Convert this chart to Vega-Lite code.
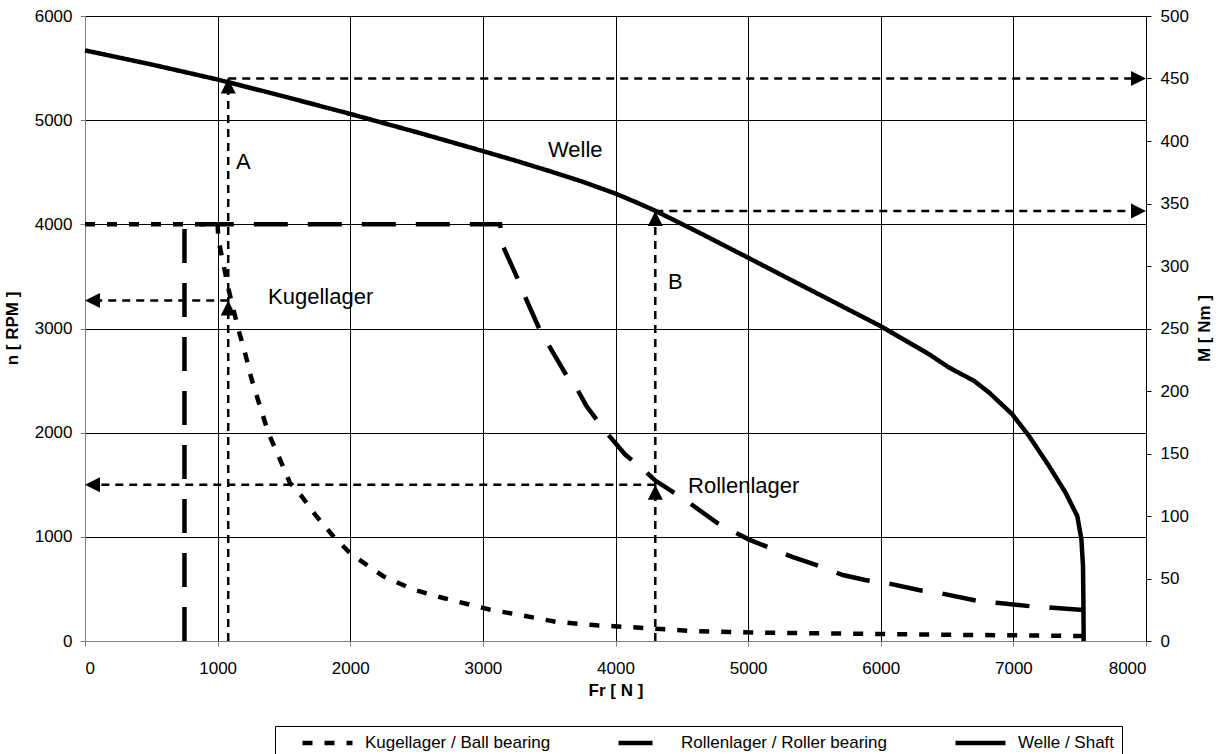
{
  "$schema": "https://vega.github.io/schema/vega-lite/v6.json",
  "width": 1061,
  "height": 625,
  "autosize": {"type": "none"},
  "padding": {"left": 85, "top": 16, "right": 70, "bottom": 113},
  "background": "white",
  "config": {
    "view": {"stroke": null},
    "font": "Liberation Sans",
    "axis": {
      "labelFont": "Liberation Sans",
      "titleFont": "Liberation Sans",
      "labelColor": "black",
      "titleColor": "black",
      "labelFontSize": 17,
      "titleFontSize": 17,
      "titleFontWeight": "bold",
      "format": "d"
    },
    "legend": {"labelFont": "Liberation Sans"}
  },
  "datasets": {
    "curves": [
      {"series": "Kugellager / Ball bearing", "i": 0, "x": 0, "y": 4000},
      {"series": "Kugellager / Ball bearing", "i": 1, "x": 1000, "y": 4000},
      {"series": "Kugellager / Ball bearing", "i": 2, "x": 1005, "y": 3860},
      {"series": "Kugellager / Ball bearing", "i": 3, "x": 1040, "y": 3640},
      {"series": "Kugellager / Ball bearing", "i": 4, "x": 1075, "y": 3420},
      {"series": "Kugellager / Ball bearing", "i": 5, "x": 1106, "y": 3250},
      {"series": "Kugellager / Ball bearing", "i": 6, "x": 1156, "y": 2994},
      {"series": "Kugellager / Ball bearing", "i": 7, "x": 1206, "y": 2769},
      {"series": "Kugellager / Ball bearing", "i": 8, "x": 1256, "y": 2513},
      {"series": "Kugellager / Ball bearing", "i": 9, "x": 1319, "y": 2256},
      {"series": "Kugellager / Ball bearing", "i": 10, "x": 1382, "y": 2000},
      {"series": "Kugellager / Ball bearing", "i": 11, "x": 1470, "y": 1744},
      {"series": "Kugellager / Ball bearing", "i": 12, "x": 1545, "y": 1519},
      {"series": "Kugellager / Ball bearing", "i": 13, "x": 1633, "y": 1391},
      {"series": "Kugellager / Ball bearing", "i": 14, "x": 1734, "y": 1215},
      {"series": "Kugellager / Ball bearing", "i": 15, "x": 1872, "y": 1006},
      {"series": "Kugellager / Ball bearing", "i": 16, "x": 2010, "y": 830},
      {"series": "Kugellager / Ball bearing", "i": 17, "x": 2249, "y": 622},
      {"series": "Kugellager / Ball bearing", "i": 18, "x": 2475, "y": 494},
      {"series": "Kugellager / Ball bearing", "i": 19, "x": 2701, "y": 413},
      {"series": "Kugellager / Ball bearing", "i": 20, "x": 2902, "y": 349},
      {"series": "Kugellager / Ball bearing", "i": 21, "x": 3050, "y": 302},
      {"series": "Kugellager / Ball bearing", "i": 22, "x": 3286, "y": 248},
      {"series": "Kugellager / Ball bearing", "i": 23, "x": 3556, "y": 183},
      {"series": "Kugellager / Ball bearing", "i": 24, "x": 3859, "y": 151},
      {"series": "Kugellager / Ball bearing", "i": 25, "x": 4296, "y": 119},
      {"series": "Kugellager / Ball bearing", "i": 26, "x": 4566, "y": 96},
      {"series": "Kugellager / Ball bearing", "i": 27, "x": 5104, "y": 80},
      {"series": "Kugellager / Ball bearing", "i": 28, "x": 5710, "y": 71},
      {"series": "Kugellager / Ball bearing", "i": 29, "x": 6384, "y": 61},
      {"series": "Kugellager / Ball bearing", "i": 30, "x": 6956, "y": 55},
      {"series": "Kugellager / Ball bearing", "i": 31, "x": 7530, "y": 48},
      {"series": "Rollenlager / Roller bearing", "i": 0, "x": 750, "y": 0},
      {"series": "Rollenlager / Roller bearing", "i": 1, "x": 750, "y": 4000},
      {"series": "Rollenlager / Roller bearing", "i": 2, "x": 3130, "y": 4000},
      {"series": "Rollenlager / Roller bearing", "i": 3, "x": 3151, "y": 3792},
      {"series": "Rollenlager / Roller bearing", "i": 4, "x": 3264, "y": 3472},
      {"series": "Rollenlager / Roller bearing", "i": 5, "x": 3327, "y": 3280},
      {"series": "Rollenlager / Roller bearing", "i": 6, "x": 3428, "y": 2990},
      {"series": "Rollenlager / Roller bearing", "i": 7, "x": 3529, "y": 2768},
      {"series": "Rollenlager / Roller bearing", "i": 8, "x": 3655, "y": 2496},
      {"series": "Rollenlager / Roller bearing", "i": 9, "x": 3705, "y": 2432},
      {"series": "Rollenlager / Roller bearing", "i": 10, "x": 3781, "y": 2256},
      {"series": "Rollenlager / Roller bearing", "i": 11, "x": 3932, "y": 2000},
      {"series": "Rollenlager / Roller bearing", "i": 12, "x": 4071, "y": 1792},
      {"series": "Rollenlager / Roller bearing", "i": 13, "x": 4209, "y": 1648},
      {"series": "Rollenlager / Roller bearing", "i": 14, "x": 4300, "y": 1540},
      {"series": "Rollenlager / Roller bearing", "i": 15, "x": 4461, "y": 1408},
      {"series": "Rollenlager / Roller bearing", "i": 16, "x": 4537, "y": 1344},
      {"series": "Rollenlager / Roller bearing", "i": 17, "x": 4763, "y": 1136},
      {"series": "Rollenlager / Roller bearing", "i": 18, "x": 5003, "y": 976},
      {"series": "Rollenlager / Roller bearing", "i": 19, "x": 5327, "y": 810},
      {"series": "Rollenlager / Roller bearing", "i": 20, "x": 5478, "y": 746},
      {"series": "Rollenlager / Roller bearing", "i": 21, "x": 5714, "y": 633},
      {"series": "Rollenlager / Roller bearing", "i": 22, "x": 5882, "y": 585},
      {"series": "Rollenlager / Roller bearing", "i": 23, "x": 6034, "y": 560},
      {"series": "Rollenlager / Roller bearing", "i": 24, "x": 6286, "y": 489},
      {"series": "Rollenlager / Roller bearing", "i": 25, "x": 6455, "y": 457},
      {"series": "Rollenlager / Roller bearing", "i": 26, "x": 6724, "y": 386},
      {"series": "Rollenlager / Roller bearing", "i": 27, "x": 6892, "y": 364},
      {"series": "Rollenlager / Roller bearing", "i": 28, "x": 7128, "y": 334},
      {"series": "Rollenlager / Roller bearing", "i": 29, "x": 7530, "y": 298},
      {"series": "Welle / Shaft", "i": 0, "x": 0, "y": 5670},
      {"series": "Welle / Shaft", "i": 1, "x": 500, "y": 5535},
      {"series": "Welle / Shaft", "i": 2, "x": 1000, "y": 5390},
      {"series": "Welle / Shaft", "i": 3, "x": 1500, "y": 5228},
      {"series": "Welle / Shaft", "i": 4, "x": 2000, "y": 5060},
      {"series": "Welle / Shaft", "i": 5, "x": 2500, "y": 4885},
      {"series": "Welle / Shaft", "i": 6, "x": 3000, "y": 4703},
      {"series": "Welle / Shaft", "i": 7, "x": 3250, "y": 4610},
      {"series": "Welle / Shaft", "i": 8, "x": 3500, "y": 4512},
      {"series": "Welle / Shaft", "i": 9, "x": 3750, "y": 4410},
      {"series": "Welle / Shaft", "i": 10, "x": 4000, "y": 4295},
      {"series": "Welle / Shaft", "i": 11, "x": 4150, "y": 4215},
      {"series": "Welle / Shaft", "i": 12, "x": 4300, "y": 4130},
      {"series": "Welle / Shaft", "i": 13, "x": 4650, "y": 3908},
      {"series": "Welle / Shaft", "i": 14, "x": 5000, "y": 3679},
      {"series": "Welle / Shaft", "i": 15, "x": 6000, "y": 3022},
      {"series": "Welle / Shaft", "i": 16, "x": 6364, "y": 2753},
      {"series": "Welle / Shaft", "i": 17, "x": 6515, "y": 2625},
      {"series": "Welle / Shaft", "i": 18, "x": 6704, "y": 2497},
      {"series": "Welle / Shaft", "i": 19, "x": 6817, "y": 2385},
      {"series": "Welle / Shaft", "i": 20, "x": 6992, "y": 2176},
      {"series": "Welle / Shaft", "i": 21, "x": 7118, "y": 1968},
      {"series": "Welle / Shaft", "i": 22, "x": 7269, "y": 1679},
      {"series": "Welle / Shaft", "i": 23, "x": 7394, "y": 1423},
      {"series": "Welle / Shaft", "i": 24, "x": 7482, "y": 1199},
      {"series": "Welle / Shaft", "i": 25, "x": 7513, "y": 974},
      {"series": "Welle / Shaft", "i": 26, "x": 7525, "y": 718},
      {"series": "Welle / Shaft", "i": 27, "x": 7528, "y": 397},
      {"series": "Welle / Shaft", "i": 28, "x": 7530, "y": 0}
    ],
    "guides": [
      {"id": "A_v", "i": 0, "x": 1080, "y": 0},
      {"id": "A_v", "i": 1, "x": 1080, "y": 5400},
      {"id": "A_h", "i": 0, "x": 1080, "y": 5400},
      {"id": "A_h", "i": 1, "x": 7900, "y": 5400},
      {"id": "A_l", "i": 0, "x": 1080, "y": 3270},
      {"id": "A_l", "i": 1, "x": 100, "y": 3270},
      {"id": "B_v", "i": 0, "x": 4300, "y": 0},
      {"id": "B_v", "i": 1, "x": 4300, "y": 4128},
      {"id": "B_h", "i": 0, "x": 4300, "y": 4128},
      {"id": "B_h", "i": 1, "x": 7900, "y": 4128},
      {"id": "B_l", "i": 0, "x": 4300, "y": 1500},
      {"id": "B_l", "i": 1, "x": 100, "y": 1500}
    ],
    "arrows": [
      {"x": 1080, "y": 5400, "dir": "up"},
      {"x": 1080, "y": 3270, "dir": "up"},
      {"x": 4300, "y": 4128, "dir": "up"},
      {"x": 4300, "y": 1500, "dir": "up"},
      {"x": 0, "y": 3270, "dir": "left"},
      {"x": 0, "y": 1500, "dir": "left"}
    ],
    "labels": [
      {"label": "A", "x": 1139, "y": 4598},
      {"label": "Welle", "x": 3491, "y": 4713},
      {"label": "B", "x": 4396, "y": 3446},
      {"label": "Kugellager", "x": 1380, "y": 3302},
      {"label": "Rollenlager", "x": 4547, "y": 1488}
    ],
    "torque": [
      {"x": 8000, "m": 450},
      {"x": 8000, "m": 344}
    ]
  },
  "layer": [
    {
      "layer": [
        {
          "data": {"name": "curves"},
          "mark": {"type": "line", "color": "black", "strokeWidth": 4.5, "strokeCap": "butt"},
          "encoding": {
            "x": {
              "field": "x", "type": "quantitative",
              "scale": {"domain": [0, 8000], "nice": false, "zero": false},
              "axis": {
                "title": "Fr [ N ]",
                "values": [0, 1000, 2000, 3000, 4000, 5000, 6000, 7000, 8000],
                "format": "d",
                "grid": true,
                "gridColor": {"condition": {"test": "datum.value === 0", "value": "transparent"}, "value": "black"},
                "gridWidth": 1,
                "domainColor": "#808080",
                "tickColor": "#808080",
                "tickSize": 5,
                "labelPadding": 14,
                "titleY": 49,
                "titleBaseline": "middle"
              }
            },
            "y": {
              "field": "y", "type": "quantitative",
              "scale": {"domain": [0, 6000], "nice": false, "zero": false},
              "axis": {
                "title": "n [ RPM ]",
                "orient": "left",
                "values": [0, 1000, 2000, 3000, 4000, 5000, 6000],
                "format": "d",
                "grid": true,
                "gridColor": {"condition": {"test": "datum.value === 0", "value": "transparent"}, "value": "black"},
                "gridWidth": 1,
                "domainColor": "#808080",
                "tickColor": "#808080",
                "tickSize": 5,
                "labelPadding": 8,
                "titleX": -73,
                "titleY": 312,
                "titleAngle": 270,
                "titleBaseline": "middle",
                "titleAlign": "center"
              }
            },
            "order": {"field": "i", "type": "quantitative"},
            "strokeDash": {
              "field": "series", "type": "nominal",
              "scale": {
                "domain": ["Kugellager / Ball bearing", "Rollenlager / Roller bearing", "Welle / Shaft"],
                "range": [[10, 12], [34, 20], [1, 0]]
              },
              "legend": {
                "title": null,
                "orient": "none",
                "legendX": 190,
                "legendY": 710,
                "direction": "horizontal",
                "columns": 3,
                "columnPadding": 47,
                "symbolType": "stroke",
                "symbolSize": 2500,
                "symbolStrokeWidth": 4.5,
                "symbolStrokeColor": "black",
                "symbolOffset": 18,
                "clipHeight": 20,
                "labelOffset": 10,
                "labelFontSize": 17,
                "labelColor": "black",
                "labelLimit": 400,
                "strokeColor": "black",
                "fillColor": "white",
                "padding": 7
              }
            }
          }
        },
        {
          "data": {"name": "guides"},
          "mark": {"type": "line", "color": "black", "strokeWidth": 2.5, "strokeDash": [8, 6]},
          "encoding": {
            "x": {"field": "x", "type": "quantitative"},
            "y": {"field": "y", "type": "quantitative"},
            "detail": {"field": "id"},
            "order": {"field": "i", "type": "quantitative"}
          }
        },
        {
          "data": {"name": "arrows"},
          "mark": {"type": "point", "filled": true, "color": "black", "opacity": 1, "size": 225, "strokeWidth": 0},
          "encoding": {
            "x": {"field": "x", "type": "quantitative"},
            "y": {"field": "y", "type": "quantitative"},
            "shape": {
              "field": "dir", "type": "nominal",
              "scale": {"domain": ["up", "left"], "range": ["M0,0L-1,2L1,2Z", "M0,0L2,-1L2,1Z"]},
              "legend": null
            }
          }
        },
        {
          "data": {"name": "labels"},
          "mark": {"type": "text", "align": "left", "baseline": "middle", "fontSize": 22, "font": "Liberation Sans", "color": "black"},
          "encoding": {
            "x": {"field": "x", "type": "quantitative"},
            "y": {"field": "y", "type": "quantitative"},
            "text": {"field": "label"}
          }
        }
      ]
    },
    {
      "data": {"name": "torque"},
      "mark": {"type": "point", "filled": true, "color": "black", "opacity": 1, "size": 225, "strokeWidth": 0, "shape": "M0,0L-2,-1L-2,1Z"},
      "encoding": {
        "x": {"field": "x", "type": "quantitative"},
        "y": {
          "field": "m", "type": "quantitative",
          "scale": {"domain": [0, 500], "nice": false, "zero": false},
          "axis": {
            "title": "M [ Nm ]",
            "orient": "right",
            "values": [0, 50, 100, 150, 200, 250, 300, 350, 400, 450, 500],
            "format": "d",
            "grid": false,
            "domainColor": "black",
            "tickColor": "black",
            "tickSize": 5,
            "labelPadding": 9,
            "titleX": 58,
            "titleY": 312,
            "titleAngle": 270,
            "titleBaseline": "middle",
            "titleAlign": "center"
          }
        }
      }
    }
  ],
  "resolve": {"scale": {"y": "independent"}}
}
